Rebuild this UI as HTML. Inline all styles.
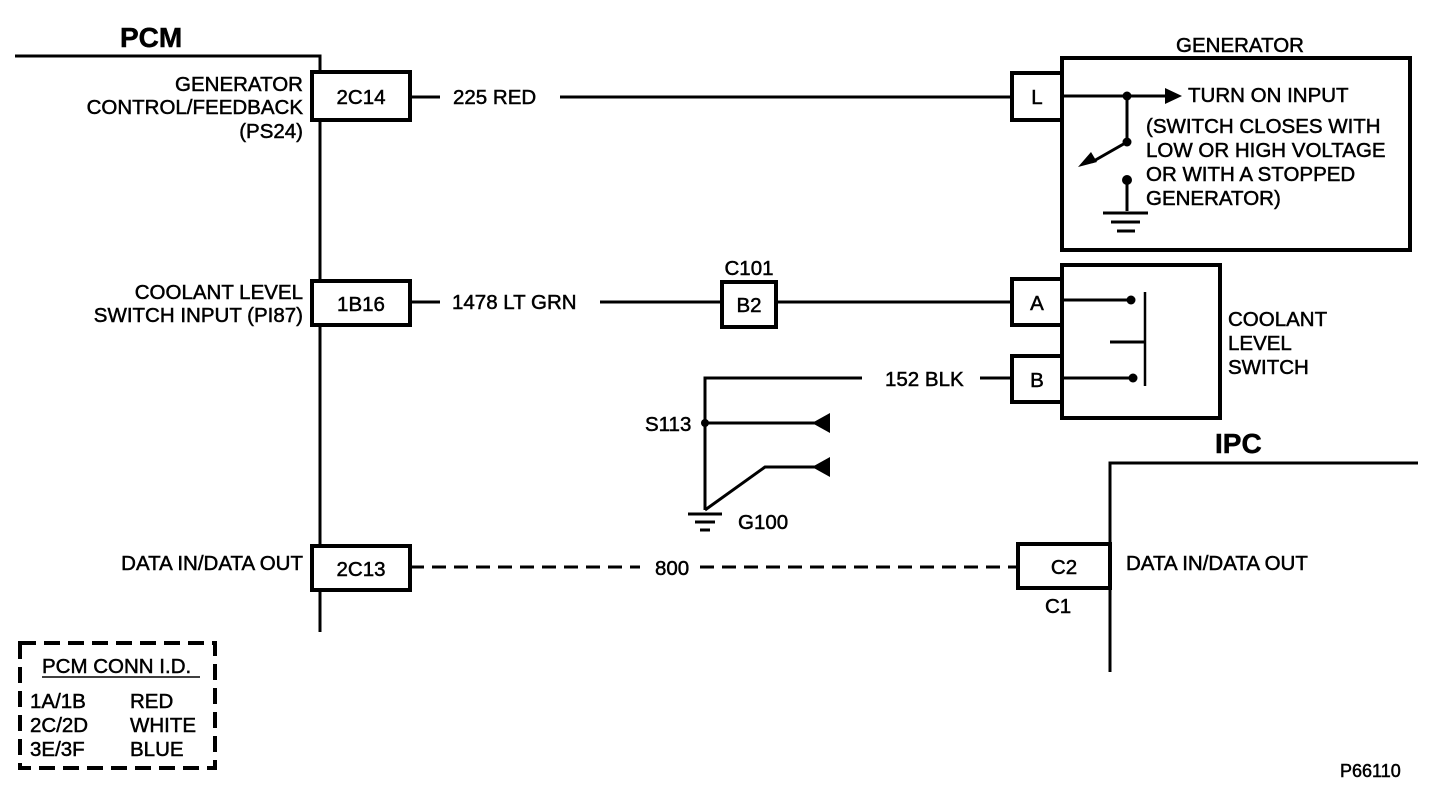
<!DOCTYPE html><html><head><style>body{margin:0;background:#fff}svg{display:block}text{font-family:"Liberation Sans",Arial,sans-serif;fill:#000;stroke:#000;stroke-width:0.5}</style></head><body>
<svg width="1440" height="786" viewBox="0 0 1440 786" xmlns="http://www.w3.org/2000/svg">
<g stroke="#000" stroke-width="3" fill="none">
<path d="M15 56H320V632"/>
<g stroke-width="4">
<rect x="312" y="72" width="98" height="48" fill="#fff"/>
<rect x="312" y="281" width="98" height="44" fill="#fff"/>
<rect x="312" y="546" width="98" height="44" fill="#fff"/>
<rect x="1012" y="73" width="50" height="47"/>
<rect x="1062" y="58" width="348" height="192"/>
<rect x="722" y="282" width="54" height="45"/>
<rect x="1012" y="279" width="50" height="46"/>
<rect x="1062" y="265" width="158" height="153"/>
<rect x="1012" y="356" width="50" height="46"/>
<rect x="1018" y="544" width="92" height="44" fill="#fff"/>
</g>
<path d="M410 97H440M560 97H1012"/>
<path d="M1062 96H1168M1127 96V142L1092 162M1127 180V211M1103 213H1148M1111 222H1140M1117 231H1135"/>
<path d="M410 302H440M600 302H722M776 302H1012"/>
<path d="M1062 300H1130M1062 378H1133M1110 342H1145"/>
<path d="M1145 292V386" stroke-width="2.5"/>
<path d="M980 378H1012M862 378H705V510M705 423H815M705 510L765 467H815M688 514H722M695 522H715M700 530H710"/>
<path d="M1110 672V463H1418"/>
<path d="M410 567H640M700 567H1018" stroke-dasharray="14 8"/>
<rect x="20" y="643" width="195" height="125" stroke-width="4" stroke-dasharray="16 8"/>
<path d="M42 677H200" stroke-width="1.5"/>
</g>
<g fill="#000">
<path d="M1165 88L1182 96L1165 104Z"/>
<path d="M1078 167L1091 152L1097 162Z"/>
<path d="M830 413L812 423L830 433Z"/><path d="M830 457L812 467L830 477Z"/>
<circle cx="1127" cy="96" r="4.5"/><circle cx="1127" cy="142" r="4.5"/><circle cx="1127" cy="180" r="5"/>
<circle cx="1131" cy="300" r="4.5"/><circle cx="1133" cy="378" r="4.5"/><circle cx="705" cy="423" r="4"/>
</g>
<g font-size="20.5">
<text x="120" y="47" font-size="28" font-weight="bold">PCM</text>
<text x="1215" y="453" font-size="28" font-weight="bold">IPC</text>
<g text-anchor="end"><text x="303" y="91">GENERATOR</text><text x="303" y="114">CONTROL/FEEDBACK</text><text x="303" y="138">(PS24)</text>
<text x="303" y="299">COOLANT LEVEL</text><text x="303" y="322">SWITCH INPUT (PI87)</text><text x="303" y="570">DATA IN/DATA OUT</text></g>
<g text-anchor="middle"><text x="361" y="104">2C14</text><text x="361" y="311">1B16</text><text x="361" y="576">2C13</text>
<text x="1037" y="104">L</text><text x="1037" y="310">A</text><text x="1037" y="387">B</text><text x="749" y="312">B2</text><text x="749" y="275">C101</text>
<text x="1064" y="574">C2</text><text x="1240" y="52">GENERATOR</text></g>
<text x="453" y="104">225 RED</text><text x="452" y="309">1478 LT GRN</text><text x="885" y="386">152 BLK</text>
<text x="655" y="575">800</text><text x="645" y="431">S113</text><text x="738" y="529">G100</text><text x="1045" y="613">C1</text>
<text x="1126" y="570">DATA IN/DATA OUT</text>
<text x="1188" y="102">TURN ON INPUT</text><text x="1146" y="133">(SWITCH CLOSES WITH</text><text x="1146" y="157">LOW OR HIGH VOLTAGE</text><text x="1146" y="181">OR WITH A STOPPED</text><text x="1146" y="205">GENERATOR)</text>
<text x="1228" y="326">COOLANT</text><text x="1228" y="350">LEVEL</text><text x="1228" y="374">SWITCH</text>
<text x="42" y="673">PCM CONN I.D.</text>
<text x="30" y="708">1A/1B</text><text x="130" y="708">RED</text><text x="30" y="732">2C/2D</text><text x="130" y="732">WHITE</text><text x="30" y="756">3E/3F</text><text x="130" y="756">BLUE</text>
<text x="1340" y="777" font-size="18">P66110</text>
</g>
</svg></body></html>
